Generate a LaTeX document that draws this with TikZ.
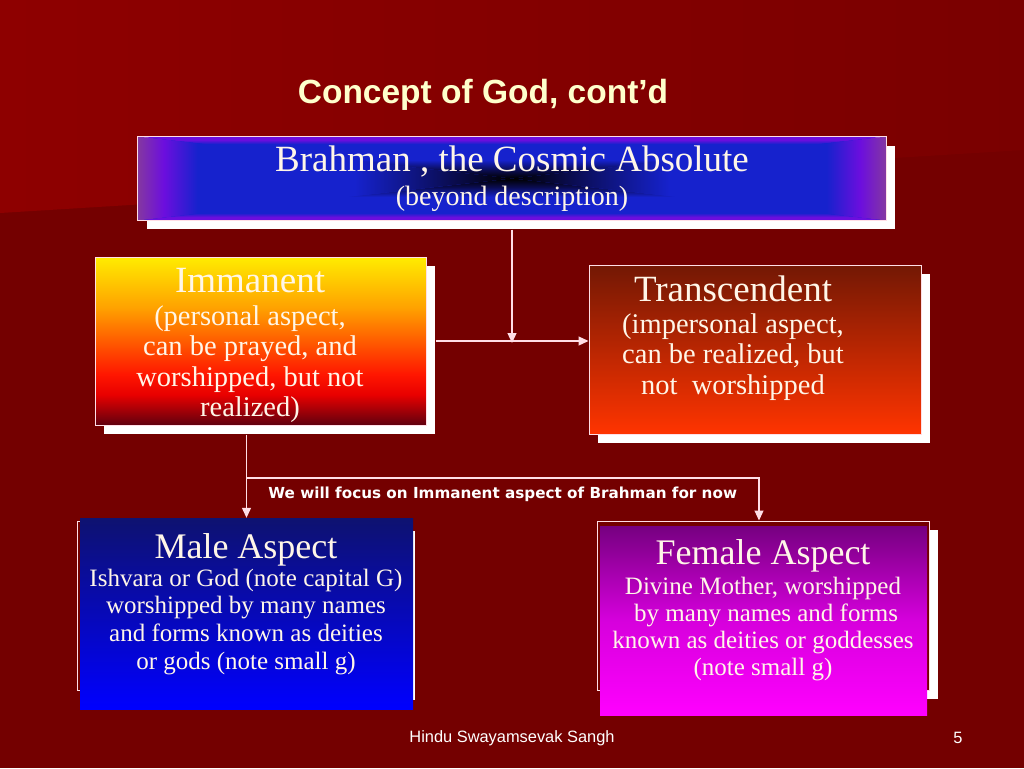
\documentclass[tikz,border=0pt]{standalone}
\usepackage{fontspec}
\setmainfont{Liberation Serif}
\newfontfamily\headfont{Liberation Sans}
\newfontfamily\notefont{DejaVu Sans}
\usetikzlibrary{arrows.meta, positioning, shadows, calc}

\definecolor{bgdark}{RGB}{116,0,0}
\definecolor{bgleft}{RGB}{142,0,0}
\definecolor{bgright}{RGB}{122,0,0}
\definecolor{boxline}{RGB}{255,222,230}
\definecolor{inktext}{RGB}{255,246,232}
\definecolor{headink}{RGB}{255,255,204}
\definecolor{bnavy}{RGB}{10,12,80}
\definecolor{bblue}{RGB}{22,34,205}
\definecolor{bviolet}{RGB}{108,14,222}
\definecolor{bpurple}{RGB}{132,56,160}
\definecolor{imdark}{RGB}{96,0,14}
\definecolor{imred}{RGB}{232,0,0}
\definecolor{imredb}{RGB}{255,22,0}
\definecolor{imorange}{RGB}{255,92,0}
\definecolor{imamber}{RGB}{255,162,0}
\definecolor{imyellow}{RGB}{255,236,0}

% centre-out glow of the top box, one edge at a time
\pgfdeclareverticalshading{glowtopbottom}{100bp}{%
  color(0bp)=(black); color(25bp)=(black); color(35bp)=(bnavy);
  color(47bp)=(bblue); color(66bp)=(bblue); color(71bp)=(bviolet);
  color(75bp)=(bviolet); color(100bp)=(bviolet)}
\pgfdeclareverticalshading{glowsides}{100bp}{%
  color(0bp)=(black); color(25bp)=(black); color(33bp)=(bnavy);
  color(46bp)=(bblue); color(67bp)=(bblue); color(71.5bp)=(bviolet);
  color(75bp)=(bpurple); color(100bp)=(bpurple)}
\pgfdeclareverticalshading{immanentfill}{100bp}{%
  color(0bp)=(imdark); color(25bp)=(imdark); color(34bp)=(imred);
  color(40bp)=(imredb); color(50bp)=(imorange); color(60bp)=(imamber);
  color(75bp)=(imyellow); color(100bp)=(imyellow)}

\begin{document}
\begin{tikzpicture}[x=1pt, y=-1pt,
    box/.style={draw=boxline, line width=1pt, inner sep=0pt},
    shadowed/.style={drop shadow={shadow xshift=#1, shadow yshift=-#1,
                     fill=white, opacity=1}},
    txt/.style={text=inktext, align=center, inner sep=0pt},
    conn/.style={draw=boxline, line width=1.2pt,
                 -{Triangle[length=10pt, width=9pt]}},
]
    % background
    \fill[bgdark] (0,0) rectangle (1024,768);
    \shade[left color=bgleft, right color=bgright]
        (0,0) -- (1024,0) -- (1024,150) -- (0,213) -- cycle;
    \useasboundingbox (0,0) rectangle (1024,768);

    \node[text=headink, font=\headfont\bfseries\fontsize{33.5}{36}\selectfont]
        (title) at (483,95) {Concept of God, cont’d};

    % top row
    \node[box, shadowed=9pt, fill=bblue,
          minimum width=748pt, minimum height=83pt] (brahman) at (512,178.5) {};
    \shade[shading=glowtopbottom]
        (brahman.center) -- (brahman.north west) -- (brahman.north east) -- cycle;
    \shade[shading=glowtopbottom, shading angle=180]
        (brahman.center) -- (brahman.south west) -- (brahman.south east) -- cycle;
    \shade[shading=glowsides, shading angle=90]
        (brahman.center) -- (brahman.north west) -- (brahman.south west) -- cycle;
    \shade[shading=glowsides, shading angle=-90]
        (brahman.center) -- (brahman.north east) -- (brahman.south east) -- cycle;
    \draw[boxline, line width=1pt] (brahman.north west) rectangle (brahman.south east);
    \node[txt, font=\fontsize{28}{34}\selectfont] (brahmantxt) at (512,178.5)
        {{\fontsize{37}{38}\selectfont Brahman , the Cosmic Absolute}\\(beyond description)};

    \node[box, shadowed=9pt, shading=immanentfill,
          minimum width=331pt, minimum height=168pt] (immanent) at (260.5,341) {};
    \node[txt, font=\fontsize{28.5}{30.5}\selectfont] (immanenttxt) at (250,345.5)
        {{\fontsize{37}{40}\selectfont Immanent}\\[2pt] (personal aspect,\\
         can be prayed, and\\ worshipped, but not\\ realized)};

    \node[box, shadowed=9pt, top color={rgb,255:red,115;green,24;blue,4},
          bottom color={rgb,255:red,255;green,52;blue,0},
          minimum width=332pt, minimum height=169pt] (transcendent) at (755,349.5) {};
    \node[txt, font=\fontsize{28.5}{30.5}\selectfont] (transcendenttxt) at (733,338)
        {{\fontsize{37}{40}\selectfont Transcendent}\\[1pt] (impersonal aspect,\\
         can be realized, but\\ not\ \ worshipped};

    % bottom row
    \node[box, shadowed=10pt, fill=bgdark,
          minimum width=328pt, minimum height=169pt] (maleframe) at (241,605.5) {};
    \node[inner sep=0pt, top color={rgb,255:red,14;green,18;blue,112},
          bottom color={rgb,255:red,0;green,0;blue,255},
          minimum width=333pt, minimum height=191pt] (male) at (246.5,613.5) {};
    \node[txt, font=\fontsize{25}{27.8}\selectfont] (maletxt) at (246,604)
        {{\fontsize{36}{40}\selectfont Male Aspect}\\ Ishvara or God (note capital G)\\
         worshipped by many names\\ and forms known as deities\\ or gods (note small g)};

    \node[box, shadowed=9pt, fill=bgdark,
          minimum width=332pt, minimum height=169pt] (femaleframe) at (763,605.5) {};
    \node[inner sep=0pt, top color={rgb,255:red,118;green,0;blue,128},
          bottom color={rgb,255:red,255;green,0;blue,255},
          middle color={rgb,255:red,214;green,0;blue,220},
          minimum width=327pt, minimum height=189pt] (female) at (763.5,620.5) {};
    \node[txt, font=\fontsize{25}{27}\selectfont] (femaletxt) at (763,610.5)
        {{\fontsize{36}{40}\selectfont Female Aspect}\\[3pt] Divine Mother, worshipped\\
         \ by many names and forms\\ known as deities or goddesses\\ (note small g)};

    % connectors
    \coordinate (split) at (male.north |- 0,478);
    \draw[conn] ([yshift=-9pt]brahman.south) -- ([yshift=-2pt]brahman.south |- immanent.east);
    \draw[conn] ([xshift=9pt]immanent.east) -- (transcendent.west |- immanent.east);
    \draw[conn] ([yshift=-9pt]male.north |- immanent.south) -- (male.north);
    \draw[conn] (split) -- ([xshift=-4pt]split -| femaleframe.north)
        node[midway, below=8pt, text=white, inner sep=0pt,
             font=\notefont\bfseries\fontsize{15.2}{17}\selectfont] (focus)
        {We will focus on Immanent aspect of Brahman for now}
        -- ([xshift=-4pt]femaleframe.north);

    % footer
    \node[text=white, font=\headfont\fontsize{16.4}{18}\selectfont] (footer) at (512,738)
        {Hindu Swayamsevak Sangh};
    \node[text=white, font=\headfont\fontsize{16.4}{18}\selectfont] (pageno) at (958,738) {5};
\end{tikzpicture}
\end{document}
